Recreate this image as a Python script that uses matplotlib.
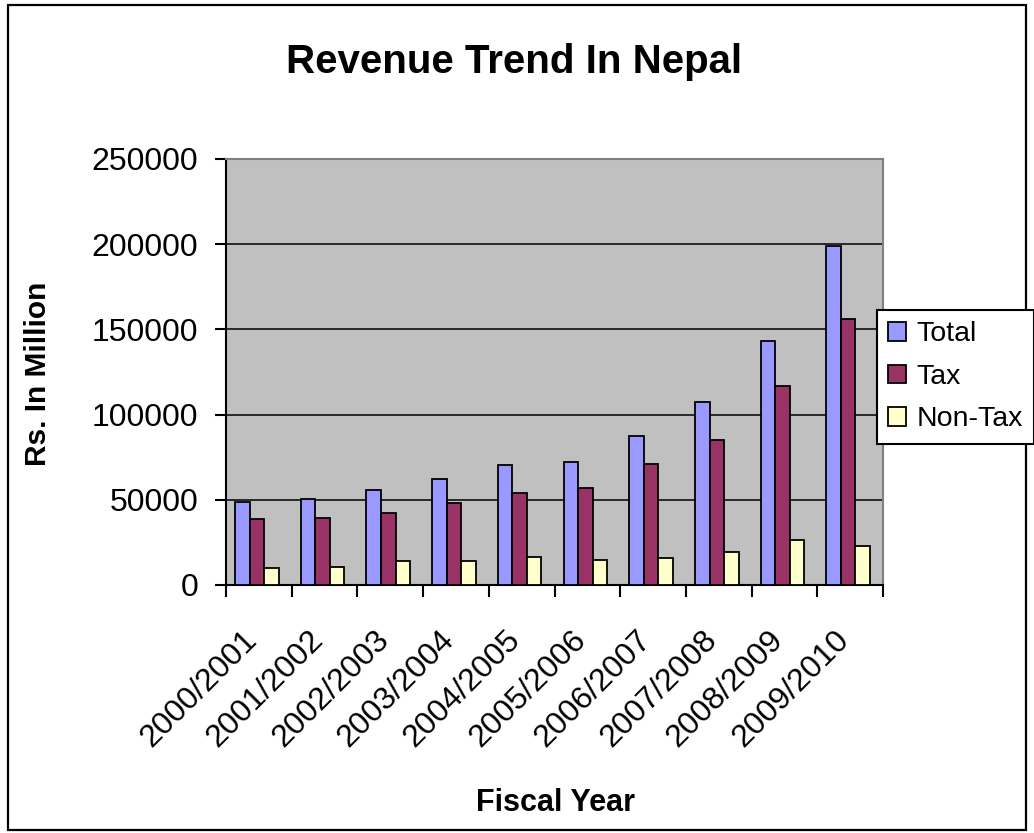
import matplotlib
matplotlib.use("Agg")
import matplotlib.pyplot as plt
import matplotlib.transforms as mtransforms
from matplotlib.patches import Rectangle
import numpy as np

plt.rcParams['font.family'] = ['Liberation Sans', 'DejaVu Sans']

years = ["2000/2001", "2001/2002", "2002/2003", "2003/2004", "2004/2005",
         "2005/2006", "2006/2007", "2007/2008", "2008/2009", "2009/2010"]
total = [48900, 50300, 56000, 62300, 70200, 72300, 87600, 107600, 143200, 198800]
tax = [38600, 39500, 42200, 48000, 53800, 57100, 71000, 85100, 117000, 156000]
non_tax = [10200, 10400, 14000, 14100, 16200, 14700, 16000, 19500, 26300, 23100]

series = [("Total", total, "#9999FF"), ("Tax", tax, "#993366"), ("Non-Tax", non_tax, "#FFFFCC")]
yticks = [0, 50000, 100000, 150000, 200000, 250000]

W, H = 1034, 833
fig = plt.figure(figsize=(W / 100, H / 100), dpi=100)
fig.patch.set_facecolor("white")

ax = fig.add_axes([226 / W, 1 - 585 / H, (883 - 226) / W, (585 - 159) / H])
ax.set_facecolor("#C0C0C0")

x = np.arange(len(years))
bw = 0.221
shift = -0.03
for i, (name, vals, col) in enumerate(series):
    ax.bar(x + shift + (i - 1) * bw, vals, width=bw, color=col, edgecolor="black",
           linewidth=1.3, label=name, zorder=3)

ax.set_xlim(-0.5, len(years) - 0.5)
ax.set_ylim(0, 250000)
ax.set_yticks(yticks)
ax.set_yticklabels([str(v) for v in yticks], fontsize=23)
ax.yaxis.grid(True, color="black", linewidth=1.1, zorder=1)
ax.set_axisbelow(True)

ax.set_xticks(x)
ax.set_xticklabels(years, fontsize=23, rotation=45, ha="right", va="center",
                   rotation_mode="anchor")
ax.set_xticks(np.arange(-0.5, len(years), 1.0), minor=True)
ax.tick_params(axis="x", which="major", length=0, pad=36)
ax.tick_params(axis="x", which="minor", length=8.6, width=1.5, direction="out")
ax.tick_params(axis="y", which="major", length=8, width=1.5, direction="out", pad=12)
offset = mtransforms.ScaledTranslation(-6 / 100, 0, fig.dpi_scale_trans)
for lab in ax.get_xticklabels():
    lab.set_transform(lab.get_transform() + offset)

for s in ["left", "bottom"]:
    ax.spines[s].set_color("black")
    ax.spines[s].set_linewidth(1.5)
for s in ["top", "right"]:
    ax.spines[s].set_color("#808080")
    ax.spines[s].set_linewidth(1.5)

fig.text(514 / W, 1 - 73.3 / H, "Revenue Trend In Nepal", fontsize=29,
         fontweight="bold", ha="center", va="baseline")
fig.text(555 / W, 1 - 811 / H, "Fiscal Year", fontsize=22, fontweight="bold",
         ha="center", va="baseline")
fig.text(38 / W, 1 - 374 / H, "Rs. In Million", fontsize=21.5, fontweight="bold",
         ha="center", va="center", rotation=90)

leg = ax.legend(loc="upper left", bbox_to_anchor=(877 / W, 1 - 310 / H),
                bbox_transform=fig.transFigure, fontsize=20.5, frameon=True,
                fancybox=False, edgecolor="black", framealpha=1,
                handlelength=0.63, handleheight=0.63, handletextpad=0.36,
                labelspacing=0.58, borderpad=0.4, borderaxespad=0)
leg.get_frame().set_linewidth(1.5)
leg.set_zorder(10)

frame = Rectangle((8 / W, 1 - 830 / H), (1026 - 8) / W, (830 - 5) / H,
                  transform=fig.transFigure, fill=False, edgecolor="black",
                  linewidth=1.6, zorder=-1)
fig.patches.append(frame)

fig.savefig("out.png", dpi=100)
